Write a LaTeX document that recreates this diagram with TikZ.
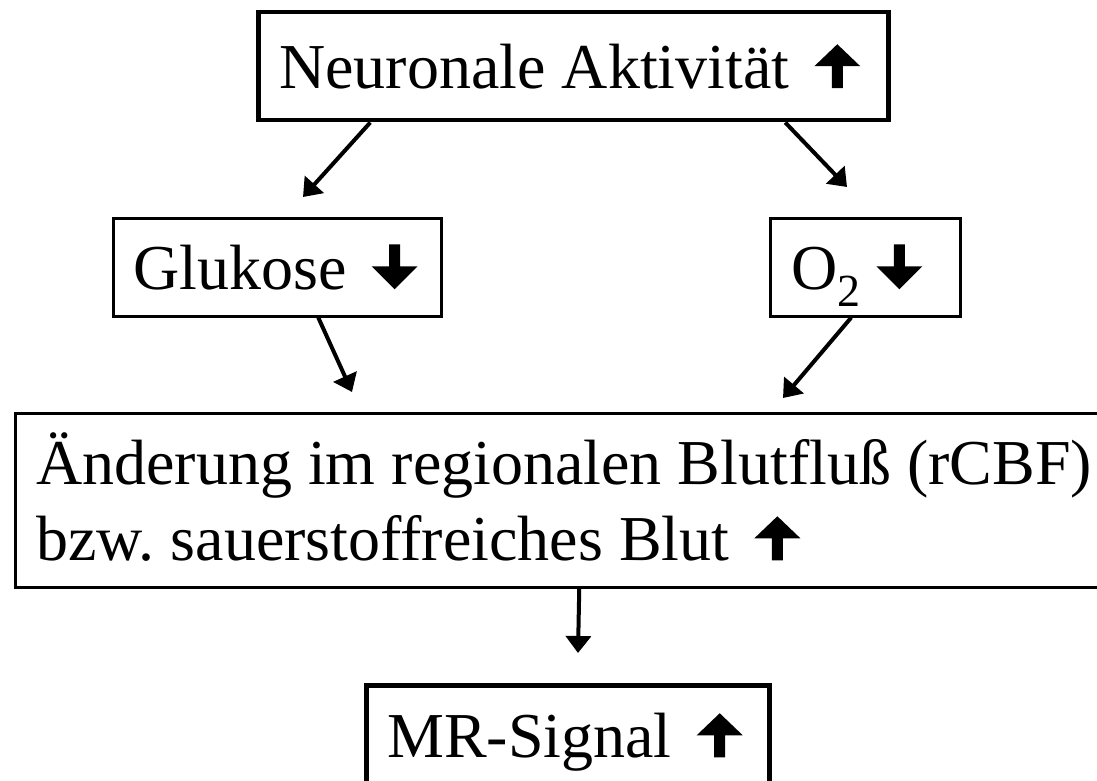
\documentclass[tikz,border=0pt]{standalone}
\usepackage{fontspec}
\setmainfont{Liberation Serif}
\usetikzlibrary{arrows.meta}
% Solid block arrows used inside the labels
\newsavebox\uparrowbox
\newsavebox\downarrowbox
\newcommand\blockpath[1]{%
  \foreach \px/\py [count=\i] in {#1}{%
    \ifnum\i=1 \pgfpathmoveto{\pgfpoint{\px pt}{\py pt}}%
    \else \pgfpathlineto{\pgfpoint{\px pt}{\py pt}}\fi}%
  \pgfpathclose\pgfusepath{fill}}
\newcommand\uparr{\ \kern9pt\usebox\uparrowbox}
\newcommand\downarr{\ \kern9pt\usebox\downarrowbox}
\begin{document}
\frenchspacing
\sbox\uparrowbox{\begin{pgfpicture}\blockpath{17.5/0,28.5/0,28.5/22,46/22,23/44,0/22,17.5/22}\end{pgfpicture}}%
\sbox\downarrowbox{\begin{pgfpicture}\blockpath{17.5/45,28.5/45,28.5/23,46/23,23/0,0/23,17.5/23}\end{pgfpicture}}%
\begin{tikzpicture}[x=1pt,y=-1pt,
  box/.style={draw, line width=2.5pt, anchor=north west, inner ysep=0pt,
    inner xsep=21pt, text height=44pt, text depth=0pt, align=flush left,
    font=\fontsize{64}{76}\selectfont},
  thickbox/.style={box, line width=4.5pt},
  conn/.style={line width=4pt, -{Triangle[length=17pt,width=25pt]}}]
  \useasboundingbox[fill=white] (0,0) rectangle (1097,781);

  \node[thickbox, minimum width=630pt, minimum height=108pt,
        text width=588pt] (top) at (256,10)
        {\mbox{Neuronale Aktivität\uparr}};
  \node[box, minimum width=328pt, minimum height=98pt,
        inner xsep=20pt, text width=288pt] (glu) at (112,217)
        {\mbox{Glukose\downarr}};
  \node[box, minimum width=190pt, minimum height=98pt,
        inner xsep=21pt, text width=148pt] (otwo) at (769,217)
        {\mbox{O\raisebox{-17pt}{\fontsize{46}{46}\selectfont 2}\ \usebox\downarrowbox}};
  \node[box, minimum width=1110pt, minimum height=174pt, text depth=76pt,
        text width=1068pt] (flow) at (14,412)
        {\mbox{Änderung im regionalen Blutfluß (rCBF)}\\
         \mbox{bzw. sauerstoffreiches Blut\uparr}};
  \node[thickbox, minimum width=403pt, minimum height=100pt,
        text width=361pt] (mr) at (364,683)
        {\mbox{MR-Signal\uparr}};

  % arrow tips
  \coordinate (t1) at (303,197);
  \coordinate (t2) at (847,187);
  \coordinate (t3) at (352,392);
  \coordinate (t4) at (783,398);
  \coordinate (t5) at (578,653);

  \draw[conn] ([xshift=-203pt]top.south) -- (t1);
  \draw[conn] ([xshift=212pt]top.south) -- (t2);
  \draw[conn] ([xshift=41pt]glu.south) -- (t3);
  \draw[conn] ([xshift=-14pt]otwo.south) -- (t4);
  \draw[conn] ([xshift=9pt]flow.south) -- (t5);
\end{tikzpicture}
\end{document}
